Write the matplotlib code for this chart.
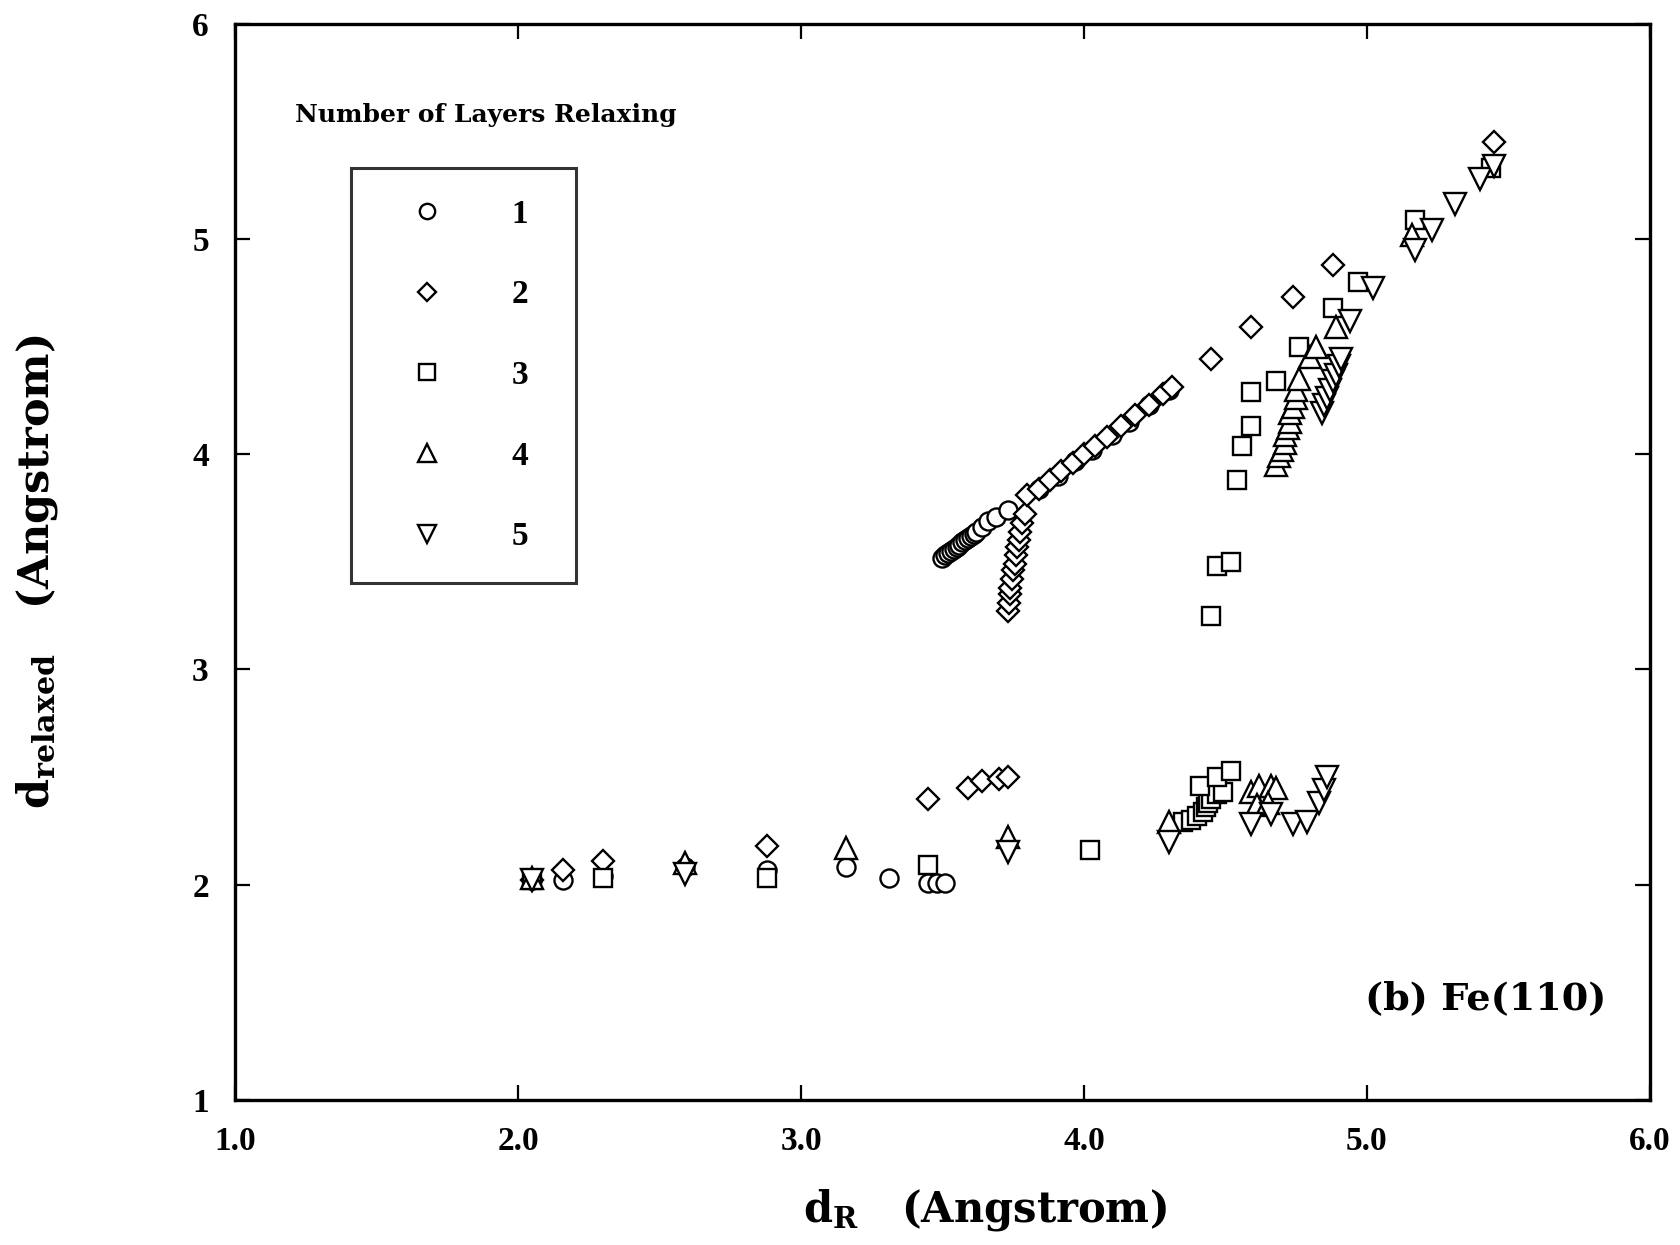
import matplotlib
matplotlib.use('Agg')
import matplotlib.pyplot as plt

plt.rcParams['font.family'] = ['Liberation Serif', 'DejaVu Serif']
plt.rcParams['font.weight'] = 'bold'
plt.rcParams['mathtext.fontset'] = 'custom'
plt.rcParams['mathtext.rm'] = 'DejaVu Serif:bold'
plt.rcParams['mathtext.it'] = 'DejaVu Serif:bold'
plt.rcParams['mathtext.bf'] = 'DejaVu Serif:bold'

# 1 layer relaxing (circles)
x1 = [2.05, 2.16, 2.30, 2.59, 2.88, 3.16, 3.31, 3.45, 3.48, 3.51,
      3.50, 3.51, 3.52, 3.53, 3.54, 3.55, 3.56, 3.57, 3.58, 3.59, 3.60, 3.61, 3.62, 3.64,
      3.66, 3.69, 3.73,
      3.84, 3.91, 3.97, 4.03, 4.10, 4.16, 4.23, 4.30]
y1 = [2.02, 2.02, 2.04, 2.08, 2.07, 2.08, 2.03, 2.01, 2.01, 2.01,
      3.52, 3.53, 3.54, 3.55, 3.56, 3.57, 3.58, 3.59, 3.60, 3.61, 3.62, 3.63, 3.64, 3.66,
      3.69, 3.71, 3.74,
      3.84, 3.90, 3.97, 4.02, 4.09, 4.15, 4.23, 4.30]

# 2 layers relaxing (diamonds)
x2 = [2.05, 2.16, 2.30, 2.88, 3.45, 3.59, 3.64, 3.70, 3.73,
      3.73, 3.735, 3.74, 3.74, 3.745, 3.75, 3.755, 3.76, 3.765, 3.77, 3.775, 3.78, 3.79,
      3.80, 3.84, 3.88, 3.92, 3.96, 4.00, 4.04, 4.08, 4.13, 4.18, 4.23, 4.28, 4.31,
      4.45, 4.59, 4.74, 4.88, 5.45]
y2 = [2.02, 2.07, 2.11, 2.18, 2.40, 2.45, 2.48, 2.49, 2.50,
      3.27, 3.31, 3.35, 3.38, 3.42, 3.46, 3.49, 3.53, 3.57, 3.60, 3.64, 3.68, 3.72,
      3.81, 3.84, 3.88, 3.92, 3.96, 4.00, 4.04, 4.08, 4.13, 4.18, 4.23, 4.28, 4.31,
      4.44, 4.59, 4.73, 4.88, 5.45]

# 3 layers relaxing (squares)
x3 = [2.05, 2.30, 2.88, 3.45, 4.02,
      4.35, 4.38, 4.40, 4.42, 4.43, 4.44, 4.45, 4.47, 4.49, 4.41, 4.47, 4.52,
      4.45, 4.47, 4.52, 4.54, 4.56, 4.59, 4.59, 4.68, 4.76, 4.88, 4.97, 5.17, 5.44]
y3 = [2.02, 2.03, 2.03, 2.09, 2.16,
      2.29, 2.30, 2.32, 2.34, 2.36, 2.38, 2.40, 2.42, 2.43, 2.46, 2.50, 2.53,
      3.25, 3.48, 3.50, 3.88, 4.04, 4.13, 4.29, 4.34, 4.50, 4.68, 4.80, 5.09, 5.33]

# 4 layers relaxing (up triangles)
x4 = [2.05, 2.59, 3.16, 3.73, 4.30,
      4.59, 4.62, 4.66, 4.68, 4.61, 4.65,
      4.68, 4.69, 4.70, 4.71, 4.71, 4.72, 4.73, 4.73, 4.74, 4.75, 4.75, 4.76,
      4.80, 4.82, 4.89, 5.16]
y4 = [2.03, 2.10, 2.17, 2.22, 2.29,
      2.43, 2.46, 2.46, 2.45, 2.37, 2.38,
      3.95, 3.99, 4.02, 4.05, 4.09, 4.12, 4.15, 4.19, 4.22, 4.26, 4.30, 4.35,
      4.45, 4.50, 4.59, 5.02]

# 5 layers relaxing (down triangles)
x5 = [2.05, 2.59, 3.73, 4.30,
      4.59, 4.66, 4.74, 4.79, 4.83, 4.85, 4.86,
      4.84, 4.85, 4.86, 4.87, 4.88, 4.89, 4.90, 4.91,
      4.94, 5.02, 5.17, 5.23, 5.31, 5.40, 5.45]
y5 = [2.02, 2.05, 2.15, 2.20,
      2.28, 2.33, 2.28, 2.29, 2.38, 2.44, 2.50,
      4.19, 4.23, 4.26, 4.30, 4.34, 4.37, 4.41, 4.44,
      4.62, 4.77, 4.95, 5.04, 5.16, 5.28, 5.34]

layer_labels = ['1', '2', '3', '4', '5']

fig = plt.figure(figsize=(16.8, 12.45), dpi=100)
ax = fig.add_axes([0.140, 0.1165, 0.842, 0.8645])

style = dict(linestyle='none', markerfacecolor='white', markeredgecolor='black',
             markeredgewidth=1.7)
h1, = ax.plot(x1, y1, marker='o', markersize=13, **style)
h2, = ax.plot(x2, y2, marker='D', markersize=11, **style)
h3, = ax.plot(x3, y3, marker='s', markersize=13, **style)
h4, = ax.plot(x4, y4, marker='^', markersize=16, **style)
h5, = ax.plot(x5, y5, marker='v', markersize=16, **style)

ax.set_xlim(1.0, 6.0)
ax.set_ylim(1, 6)
ax.set_xticks([1.0, 2.0, 3.0, 4.0, 5.0, 6.0])
ax.set_xticklabels(['1.0', '2.0', '3.0', '4.0', '5.0', '6.0'])
ax.set_yticks([1, 2, 3, 4, 5, 6])
ax.set_yticklabels(['1', '2', '3', '4', '5', '6'])
ax.tick_params(direction='in', length=11, width=1.6, top=True, right=True,
               labelsize=24, pad=19)
for s in ax.spines.values():
    s.set_linewidth(2.4)

leg = ax.legend([h1, h2, h3, h4, h5], [l + '  ' for l in layer_labels],
                loc='upper left', bbox_to_anchor=(0.082, 0.866), fontsize=24,
                markerscale=0.85, frameon=True, fancybox=False, edgecolor='black',
                borderpad=0.92, handlelength=2.72, handletextpad=1.19,
                labelspacing=1.49, borderaxespad=0)
leg.get_frame().set_linewidth(2.2)
for t in leg.get_texts():
    t.set_fontweight('bold')

ax.text(0.042, 0.915, 'Number of Layers Relaxing', transform=ax.transAxes,
        fontsize=18, fontweight='bold', ha='left', va='center',
        family='DejaVu Serif')
ax.text(0.969, 0.094, '(b) Fe(110)', transform=ax.transAxes, fontsize=27.5,
        fontweight='bold', ha='right', va='center', family='DejaVu Serif')

fig.text(0.586, 0.028, r'$\mathrm{d_R}$   (Angstrom)', fontsize=30,
         fontweight='bold', ha='center', va='center', family='DejaVu Serif')
fig.text(0.022, 0.541, r'$\mathrm{d_{relaxed}}$   (Angstrom)', fontsize=31,
         fontweight='bold', ha='center', va='center', rotation=90,
         family='DejaVu Serif')

fig.savefig('out.png', dpi=100)
